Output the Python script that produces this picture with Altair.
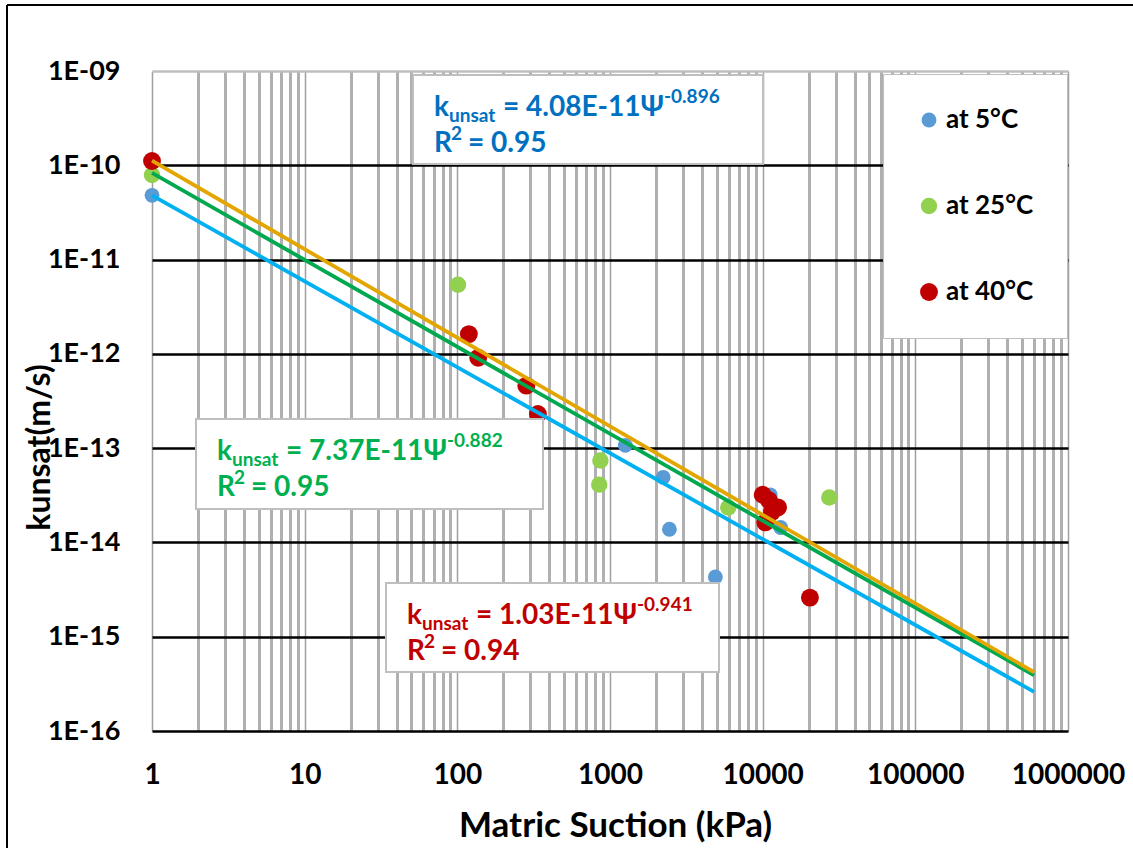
import altair as alt
import pandas as pd

# ---------------- data ----------------
series_labels = ["at 5°C", " at 25°C", "at 40°C"]

blue_x = [1, 1260, 2230, 2450, 4900, 11200, 13100]
blue_y = [4.8e-11, 1.07e-13, 4.9e-14, 1.38e-14, 4.3e-15, 3.2e-14, 1.44e-14]

green_x = [1, 101, 865, 850, 5950, 27300]
green_y = [7.9e-11, 5.4e-12, 7.4e-14, 4.1e-14, 2.35e-14, 3.0e-14]

red_x = [1, 119, 137, 283, 337, 10000, 11000, 12600, 11500, 10400, 20400]
red_y = [1.11e-10, 1.62e-12, 9.1e-13, 4.6e-13, 2.3e-13, 3.2e-14, 2.8e-14,
         2.35e-14, 2.1e-14, 1.63e-14, 2.6e-15]

fit_x = [1, 6e5]
fit_blue = [4.8e-11, 2.6e-16]
fit_green = [8.3e-11, 3.9e-16]
fit_red = [1.12e-10, 4.2e-16]

x_ticks = [1, 10, 100, 1000, 10000, 100000, 1000000]
y_ticks = [1e-16, 1e-15, 1e-14, 1e-13, 1e-12, 1e-11, 1e-10, 1e-9]

eq_coef = ["4.08E-11", "7.37E-11", "1.03E-11"]
eq_exp = ["-0.896", "-0.882", "-0.941"]
eq_r2 = ["0.95", "0.95", "0.94"]

# ---------------- styling / layout ----------------
FONT = "Lato"
point_colors = ["#5B9BD5", "#92D050", "#C00000"]
point_sizes = [220, 320, 350]
eq_colors = ["#0070C0", "#00B050", "#C00000"]
L, T = 152, 71          # plot origin in page pixels
W, H = 916, 660

x_grid_vals = [m * t for t in x_ticks[:-1] for m in range(1, 10)] + [x_ticks[-1]]
is_decade = "abs(log(datum.value)/LN10 - round(log(datum.value)/LN10)) < 0.001"

x_enc = alt.X(
    "x:Q",
    scale=alt.Scale(type="log", domain=[x_ticks[0], x_ticks[-1]], nice=False),
    axis=alt.Axis(
        title="Matric Suction (kPa)",
        values=x_grid_vals,
        labelExpr=f"({is_decade}) ? format(datum.value, 'd') : ''",
        labelOverlap=False, labelFlush=False,
        labelFont=FONT, labelFontWeight="bold", labelFontSize=28, labelColor="black",
        labelPadding=30, ticks=False, domain=False,
        grid=True,
        gridColor={"condition": {"test": is_decade, "value": "#A0A0A0"}, "value": "#B0B0B0"},
        gridWidth={"condition": {"test": is_decade, "value": 1.5}, "value": 3},
        titleFont=FONT, titleFontWeight="bold", titleFontSize=35, titleColor="black",
        titleBaseline="alphabetic", titleY=105, titleX=463,
    ),
)
y_enc = alt.Y(
    "y:Q",
    scale=alt.Scale(type="log", domain=[y_ticks[0], y_ticks[-1]], nice=False),
    axis=alt.Axis(
        title="kunsat(m/s)",
        values=y_ticks,
        labelExpr="'1E-' + (round(-log(datum.value)/LN10) < 10 ? '0' : '') + round(-log(datum.value)/LN10)",
        labelOverlap=False, labelFlush=False,
        labelFont=FONT, labelFontWeight="bold", labelFontSize=27, labelColor="black",
        labelPadding=32, ticks=False, domain=False,
        grid=True,
        gridColor={"condition": {"test": "datum.value > 5e-10", "value": "#BFBFBF"}, "value": "#000000"},
        gridWidth=2.5,
        titleFont=FONT, titleFontWeight="bold", titleFontSize=32, titleColor="black",
        titleAngle=270, titleBaseline="middle", titleAlign="center",
        titleX=-113, titleY=376,
    ),
)

pts = pd.concat([
    pd.DataFrame({"x": blue_x, "y": blue_y, "series": series_labels[0]}),
    pd.DataFrame({"x": green_x, "y": green_y, "series": series_labels[1]}),
    pd.DataFrame({"x": red_x, "y": red_y, "series": series_labels[2]}),
], ignore_index=True)

legend = alt.Legend(
    title=None, orient="none", legendX=731, legendY=3,
    padding=33, rowPadding=60, labelOffset=4,
    labelFont=FONT, labelFontWeight="bold", labelFontSize=26, labelColor="black",
    symbolType="circle", symbolStrokeWidth=0,
    fillColor="white", strokeColor="#BFBFBF",
)

points = alt.Chart(pts).mark_circle(opacity=1).encode(
    x=x_enc, y=y_enc,
    color=alt.Color("series:N", scale=alt.Scale(domain=series_labels, range=point_colors), legend=legend),
    size=alt.Size("series:N", scale=alt.Scale(domain=series_labels, range=point_sizes), legend=legend),
)

def fit_line(ys, color):
    return alt.Chart(pd.DataFrame({"x": fit_x, "y": ys})).mark_line(
        color=color, strokeWidth=3.8).encode(x="x:Q", y="y:Q")

lines = [fit_line(fit_blue, "#00B0F0"), fit_line(fit_green, "#00A84F"), fit_line(fit_red, "#E3A600")]

one = pd.DataFrame({"a": [0]})

# annotation boxes: (left, top, right, bottom, x0 of text, superscript dx)
boxes = [
    (413, 75, 763, 164, 434, 230),
    (196, 419, 543, 509, 217, 230),
    (386, 583, 719, 672, 407, 230),
]

ann_layers = []
for i, (bl, bt, br, bb, x0, sup_dx) in enumerate(boxes):
    ann_layers.append(
        alt.Chart(one).mark_rect(fill="white", stroke="#BFBFBF", strokeWidth=2).encode(
            x=alt.value(bl - L), x2=alt.value(br - L), y=alt.value(bt - T), y2=alt.value(bb - T))
    )
    b1 = bt + 41
    b2 = bt + 77
    segs = [
        ("k", 0, b1, 28),
        ("unsat", 15, b1 + 6, 19),
        ("= " + eq_coef[i] + "Ψ", 69, b1, 28),
        (eq_exp[i], sup_dx, b1 - 13, 19),
        ("R", 0, b2, 28),
        ("2", 17, b2 - 12, 19),
        ("= " + eq_r2[i], 34, b2, 28),
    ]
    for txt, dx, by, fs in segs:
        ann_layers.append(
            alt.Chart(one).mark_text(
                text=txt, align="left", baseline="alphabetic", font=FONT,
                fontWeight="bold", fontSize=fs, color=eq_colors[i],
            ).encode(x=alt.value(x0 + dx - L), y=alt.value(by - T))
        )

frame_top = alt.Chart(one).mark_rule(color="black", strokeWidth=2).encode(
    x=alt.value(7 - L), x2=alt.value(1133 - L), y=alt.value(5 - T))
frame_left = alt.Chart(one).mark_rule(color="black", strokeWidth=2).encode(
    x=alt.value(7 - L), y=alt.value(5 - T), y2=alt.value(848 - T))

chart = alt.layer(points, *lines, *ann_layers, frame_top, frame_left).properties(
    width=W, height=H,
    autosize=alt.AutoSizeParams(type="none"),
    padding={"left": L, "top": T, "right": 1133 - L - W, "bottom": 848 - T - H},
    background="white",
).configure_view(stroke=None)

chart.save("out.html", embed_options={"renderer": "svg", "actions": False})
